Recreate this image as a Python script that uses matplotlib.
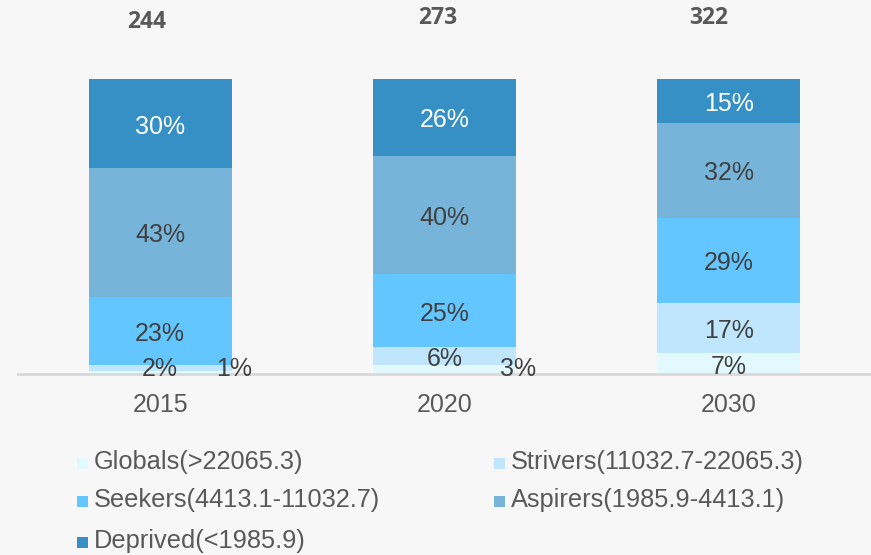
import matplotlib
matplotlib.use("Agg")
import matplotlib.pyplot as plt
from matplotlib.patches import Rectangle
import numpy as np

years = ["2015", "2020", "2030"]
totals = ["244", "273", "322"]
series = ["Globals(>22065.3)", "Strivers(11032.7-22065.3)", "Seekers(4413.1-11032.7)",
          "Aspirers(1985.9-4413.1)", "Deprived(<1985.9)"]
globals_ = [1, 3, 7]
strivers = [2, 6, 17]
seekers = [23, 25, 29]
aspirers = [43, 40, 32]
deprived = [30, 26, 15]

colors = ["#e2fafd", "#bfe6fc", "#63c6ff", "#76b4d9", "#368fc5"]
label_colors = ["#404040", "#404040", "#404040", "#404040", "#ffffff"]
BG = "#f7f7f7"

plt.rcParams['font.family'] = ['Liberation Sans', 'DejaVu Sans']

fig = plt.figure(figsize=(8.71, 5.55), dpi=100, facecolor=BG)
W, H = 871, 555
ax = fig.add_axes([18 / W, 181 / H, 853 / W, 295 / H])
ax.set_facecolor(BG)
ax.set_xlim(-0.5, 2.5)
ax.set_ylim(0, 100)

data = np.array([globals_, strivers, seekers, aspirers, deprived], dtype=float)
shares = data / data.sum(axis=0) * 100
x = np.arange(len(years))
bottom = np.zeros(len(years))
for i in range(len(series)):
    ax.bar(x, shares[i], bottom=bottom, width=0.503, color=colors[i], linewidth=0, zorder=2)
    for j in range(len(years)):
        val = data[i, j]
        yc = max(bottom[j] + shares[i, j] / 2 - 1.0, 1.6)
        xc = x[j]
        if i == 0 and val < 5:
            xc = x[j] + 0.26
            yc = 1.6
        ax.text(xc, yc, f"{int(val)}%", ha="center", va="center", fontsize=18,
                color=label_colors[i], zorder=6, clip_on=False)
    bottom += shares[i]

for s in ["top", "right", "left"]:
    ax.spines[s].set_visible(False)
ax.spines["bottom"].set_color("#d9d9d9")
ax.spines["bottom"].set_linewidth(2)
ax.spines["bottom"].set_zorder(4)
ax.set_yticks([])
ax.set_xticks(x)
ax.set_xticklabels(years, fontsize=18, color="#595959")
ax.tick_params(axis="x", length=0, pad=14)

# totals above bars
tot_pos = [(147, 22), (438, 18), (709, 18)]
for t, (px, py) in zip(totals, tot_pos):
    fig.text(px / W, 1 - py / H, t, ha="center", va="center", fontsize=16.5,
             fontweight="bold", color="#595959", family=["Open Sans", "DejaVu Sans"])

# legend
col_x = [77, 494]
row_y = [462, 500, 541]
for i, name in enumerate(series):
    r, c = divmod(i, 2)
    mx, my = col_x[c], row_y[r]
    fig.patches.append(Rectangle((mx / W, 1 - (my + 7) / H), 11 / W, 11 / H,
                                 transform=fig.transFigure, facecolor=colors[i],
                                 edgecolor="none"))
    fig.text((mx + 17) / W, 1 - my / H, name, ha="left", va="center", fontsize=18.3,
             color="#595959")

fig.savefig("out.png", dpi=100, facecolor=BG)
